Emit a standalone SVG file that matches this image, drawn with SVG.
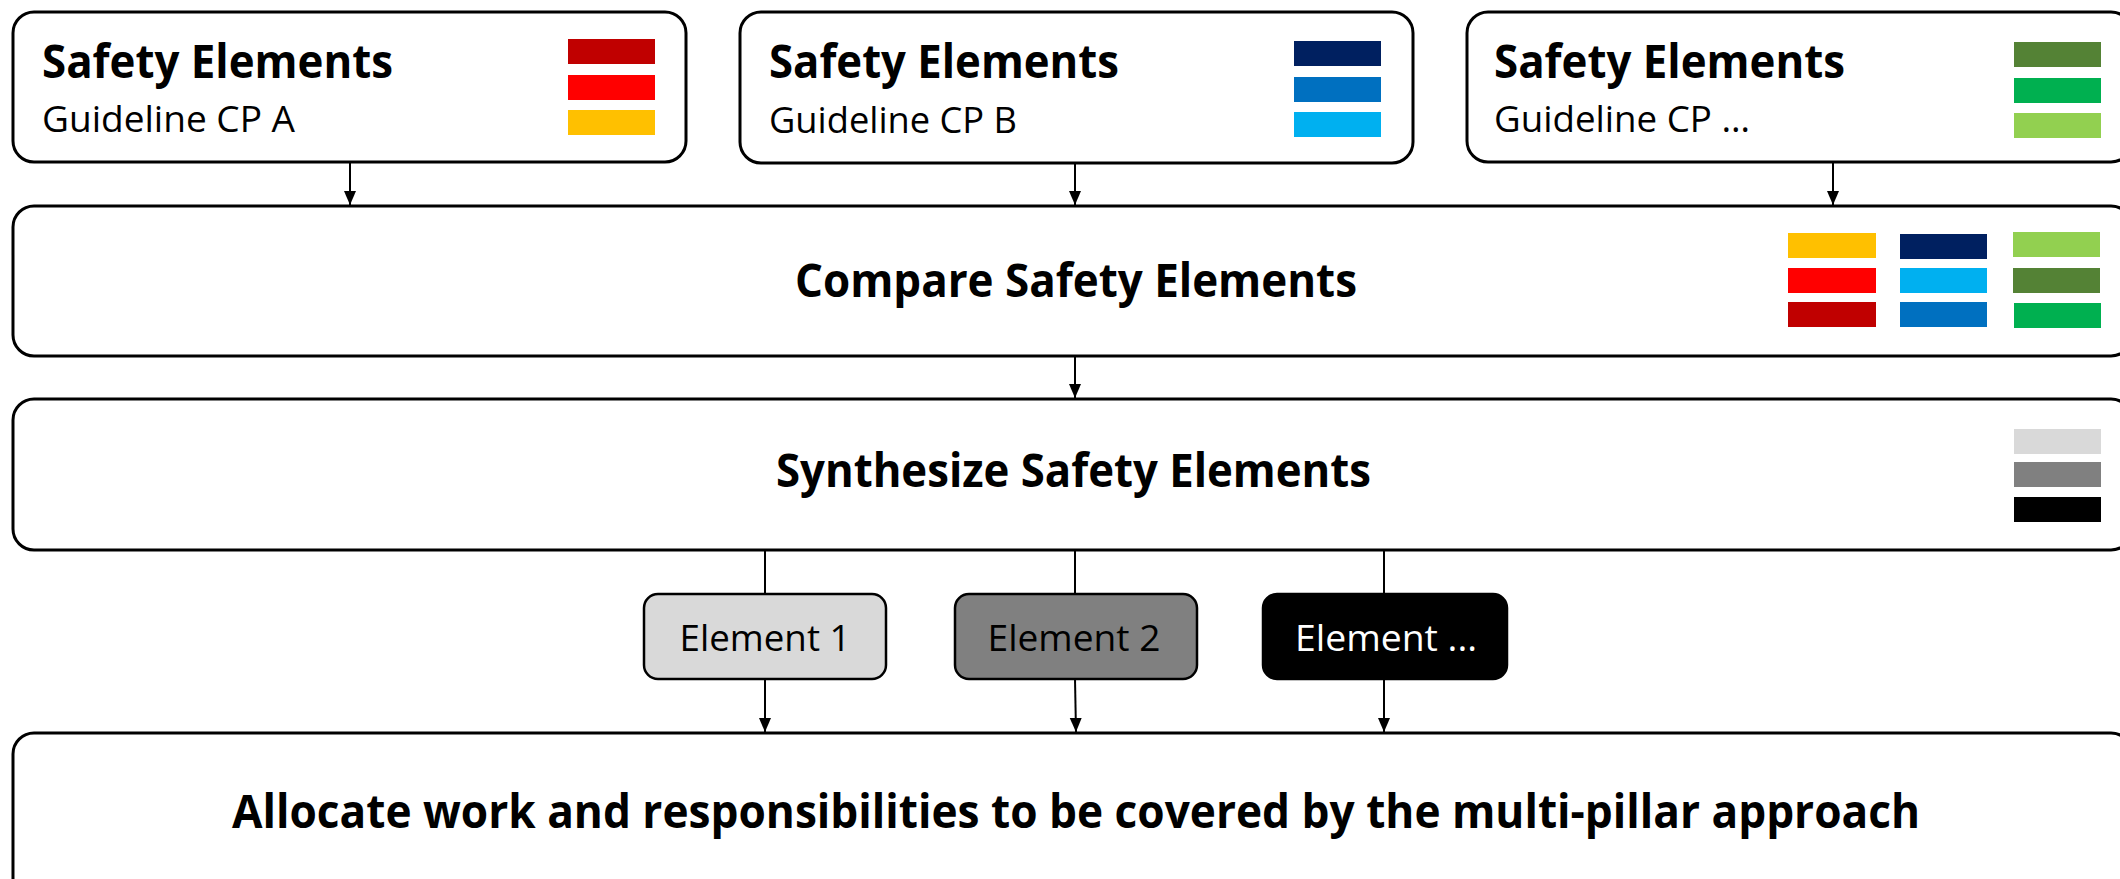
<svg xmlns="http://www.w3.org/2000/svg" width="2120" height="879" viewBox="0 0 2120 879">
<style>
.box{fill:#fff;stroke:#000;stroke-width:3}
.el{stroke:#000;stroke-width:2.5}
.t{font-family:"Open Sans","Liberation Sans",sans-serif;fill:#000}
.b{font-weight:700;font-size:46px}
.r{font-weight:400;font-size:36px}
.con{stroke:#000;stroke-width:2;fill:none}
</style>
<defs>
<marker id="arr" markerUnits="userSpaceOnUse" markerWidth="14" markerHeight="14" viewBox="0 0 14 14" refX="14" refY="7" orient="auto">
<path d="M0,1 L14,7 L0,13 z" fill="#000"/>
</marker>
</defs>
<rect width="2120" height="879" fill="#fff"/>

<g id="connectors">
<line class="con" x1="350" y1="162" x2="350" y2="205" marker-end="url(#arr)"/>
<line class="con" x1="1075" y1="163" x2="1075" y2="205" marker-end="url(#arr)"/>
<line class="con" x1="1833" y1="162" x2="1833" y2="205" marker-end="url(#arr)"/>
<line class="con" x1="1075" y1="356" x2="1075" y2="398" marker-end="url(#arr)"/>
<line class="con" x1="765" y1="550" x2="765" y2="594"/>
<line class="con" x1="1075" y1="550" x2="1075" y2="594"/>
<line class="con" x1="1384" y1="550" x2="1384" y2="594"/>
<line class="con" x1="765" y1="679" x2="765" y2="732" marker-end="url(#arr)"/>
<line class="con" x1="1075" y1="679" x2="1076" y2="732" marker-end="url(#arr)"/>
<line class="con" x1="1384" y1="679" x2="1384" y2="732" marker-end="url(#arr)"/>
</g>

<g id="guideline-a">
<rect class="box" x="13" y="12" width="673" height="150" rx="21"/>
<text class="t b" x="42" y="78" textLength="351" lengthAdjust="spacingAndGlyphs">Safety Elements</text>
<text class="t r" x="42" y="132" textLength="253" lengthAdjust="spacingAndGlyphs">Guideline CP A</text>
<rect x="568" y="39" width="87" height="25" fill="#C00000"/>
<rect x="568" y="75" width="87" height="25" fill="#FF0000"/>
<rect x="568" y="110" width="87" height="25" fill="#FFC000"/>
</g>

<g id="guideline-b">
<rect class="box" x="740" y="12" width="673" height="151" rx="21"/>
<text class="t b" x="769" y="78" textLength="350" lengthAdjust="spacingAndGlyphs">Safety Elements</text>
<text class="t r" x="769" y="133" textLength="248" lengthAdjust="spacingAndGlyphs">Guideline CP B</text>
<rect x="1294" y="41" width="87" height="25" fill="#002060"/>
<rect x="1294" y="77" width="87" height="25" fill="#0070C0"/>
<rect x="1294" y="112" width="87" height="25" fill="#00B0F0"/>
</g>

<g id="guideline-c">
<rect class="box" x="1467" y="12" width="665" height="150" rx="21"/>
<text class="t b" x="1494" y="78" textLength="351" lengthAdjust="spacingAndGlyphs">Safety Elements</text>
<text class="t r" x="1494" y="132" textLength="256" lengthAdjust="spacingAndGlyphs">Guideline CP …</text>
<rect x="2014" y="42" width="87" height="25" fill="#548235"/>
<rect x="2014" y="78" width="87" height="25" fill="#00B050"/>
<rect x="2014" y="113" width="87" height="25" fill="#92D050"/>
</g>

<g id="compare">
<rect class="box" x="13" y="206" width="2119" height="150" rx="21"/>
<text class="t b" x="795" y="297" textLength="562" lengthAdjust="spacingAndGlyphs">Compare Safety Elements</text>
<rect x="1788" y="233" width="88" height="25" fill="#FFC000"/>
<rect x="1788" y="268" width="88" height="25" fill="#FF0000"/>
<rect x="1788" y="302" width="88" height="25" fill="#C00000"/>
<rect x="1900" y="234" width="87" height="25" fill="#002060"/>
<rect x="1900" y="268" width="87" height="25" fill="#00B0F0"/>
<rect x="1900" y="302" width="87" height="25" fill="#0070C0"/>
<rect x="2013" y="232" width="87" height="25" fill="#92D050"/>
<rect x="2013" y="268" width="87" height="25" fill="#548235"/>
<rect x="2014" y="303" width="87" height="25" fill="#00B050"/>
</g>

<g id="synthesize">
<rect class="box" x="13" y="399" width="2119" height="151" rx="21"/>
<text class="t b" x="776" y="487" textLength="595" lengthAdjust="spacingAndGlyphs">Synthesize Safety Elements</text>
<rect x="2014" y="429" width="87" height="25" fill="#D9D9D9"/>
<rect x="2014" y="462" width="87" height="25" fill="#808080"/>
<rect x="2014" y="497" width="87" height="25" fill="#000000"/>
</g>

<g id="element-1">
<rect class="el" x="644" y="594" width="242" height="85" rx="14" fill="#D9D9D9"/>
<text class="t r" x="765" y="651" text-anchor="middle" textLength="171" lengthAdjust="spacingAndGlyphs">Element 1</text>
</g>

<g id="element-2">
<rect class="el" x="955" y="594" width="242" height="85" rx="14" fill="#808080"/>
<text class="t r" x="1074" y="651" text-anchor="middle" textLength="173" lengthAdjust="spacingAndGlyphs">Element 2</text>
</g>

<g id="element-n">
<rect class="el" x="1263" y="594" width="244" height="85" rx="14" fill="#000000"/>
<text class="t r" x="1386" y="651" text-anchor="middle" textLength="182" lengthAdjust="spacingAndGlyphs" style="fill:#fff">Element ...</text>
</g>

<g id="allocate">
<rect class="box" x="13" y="733" width="2119" height="180" rx="21"/>
<text class="t b" x="232" y="828" textLength="1688" lengthAdjust="spacingAndGlyphs">Allocate work and responsibilities to be covered by the multi-pillar approach</text>
</g>
</svg>
